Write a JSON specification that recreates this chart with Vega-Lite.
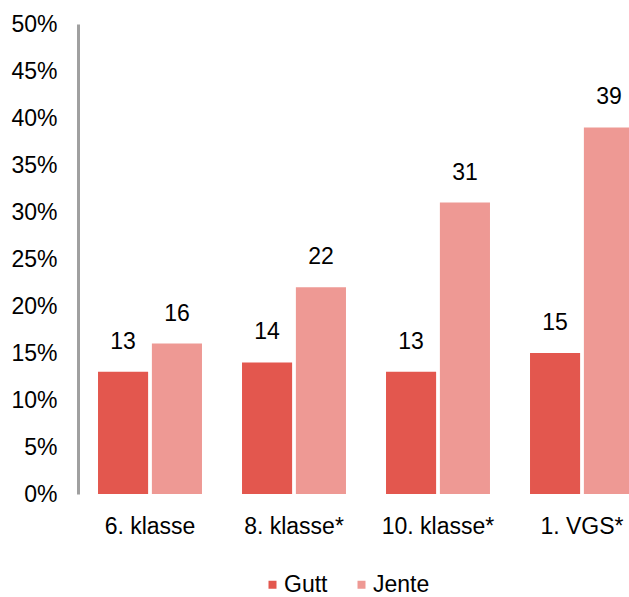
{
  "$schema": "https://vega.github.io/schema/vega-lite/v6.json",
  "autosize": {"type": "none"},
  "width": 551,
  "height": 470,
  "padding": {"left": 78, "top": 24, "right": 0, "bottom": 103},
  "background": "white",
  "config": {
    "view": {"stroke": null},
    "font": "Liberation Sans",
    "axis": {"grid": false, "ticks": false, "labelColor": "#000000", "labelFont": "Liberation Sans", "labelFontSize": 23, "title": null}
  },
  "data": {
    "values": [
      {"klasse": "6. klasse", "kjonn": "Gutt", "andel": 13},
      {"klasse": "6. klasse", "kjonn": "Jente", "andel": 16},
      {"klasse": "8. klasse*", "kjonn": "Gutt", "andel": 14},
      {"klasse": "8. klasse*", "kjonn": "Jente", "andel": 22},
      {"klasse": "10. klasse*", "kjonn": "Gutt", "andel": 13},
      {"klasse": "10. klasse*", "kjonn": "Jente", "andel": 31},
      {"klasse": "1. VGS*", "kjonn": "Gutt", "andel": 15},
      {"klasse": "1. VGS*", "kjonn": "Jente", "andel": 39}
    ]
  },
  "encoding": {
    "x": {
      "field": "klasse",
      "type": "nominal",
      "sort": ["6. klasse", "8. klasse*", "10. klasse*", "1. VGS*"],
      "scale": {"range": [0, 576], "paddingInner": 0.278, "paddingOuter": 0.139},
      "axis": {"domain": false, "labelAngle": 0, "labelPadding": 21}
    },
    "xOffset": {
      "field": "kjonn",
      "type": "nominal",
      "sort": ["Gutt", "Jente"],
      "scale": {"paddingInner": 0.07}
    },
    "y": {
      "field": "andel",
      "type": "quantitative",
      "scale": {"domain": [0, 50], "nice": false},
      "axis": {
        "values": [0, 5, 10, 15, 20, 25, 30, 35, 40, 45, 50],
        "labelExpr": "datum.value + '%'",
        "domain": true,
        "domainColor": "#A0A0A0",
        "domainWidth": 3,
        "labelPadding": 21
      }
    }
  },
  "layer": [
    {
      "mark": {"type": "bar", "clip": false},
      "encoding": {
        "color": {
          "field": "kjonn",
          "type": "nominal",
          "sort": ["Gutt", "Jente"],
          "scale": {"domain": ["Gutt", "Jente"], "range": ["#E3574E", "#EE9994"]},
          "legend": {
            "title": null,
            "orient": "none",
            "direction": "horizontal",
            "legendX": 183,
            "legendY": 549,
            "symbolType": "square",
            "symbolSize": 64,
            "symbolStrokeWidth": 0,
            "labelFontSize": 23,
            "labelFont": "Liberation Sans",
            "labelColor": "#000000",
            "labelOffset": 0,
            "labelLimit": 300,
            "columnPadding": 22
          }
        }
      }
    },
    {
      "mark": {"type": "text", "dy": -30, "baseline": "middle", "fontSize": 23, "color": "#000000"},
      "encoding": {"text": {"field": "andel", "type": "quantitative"}}
    }
  ]
}
